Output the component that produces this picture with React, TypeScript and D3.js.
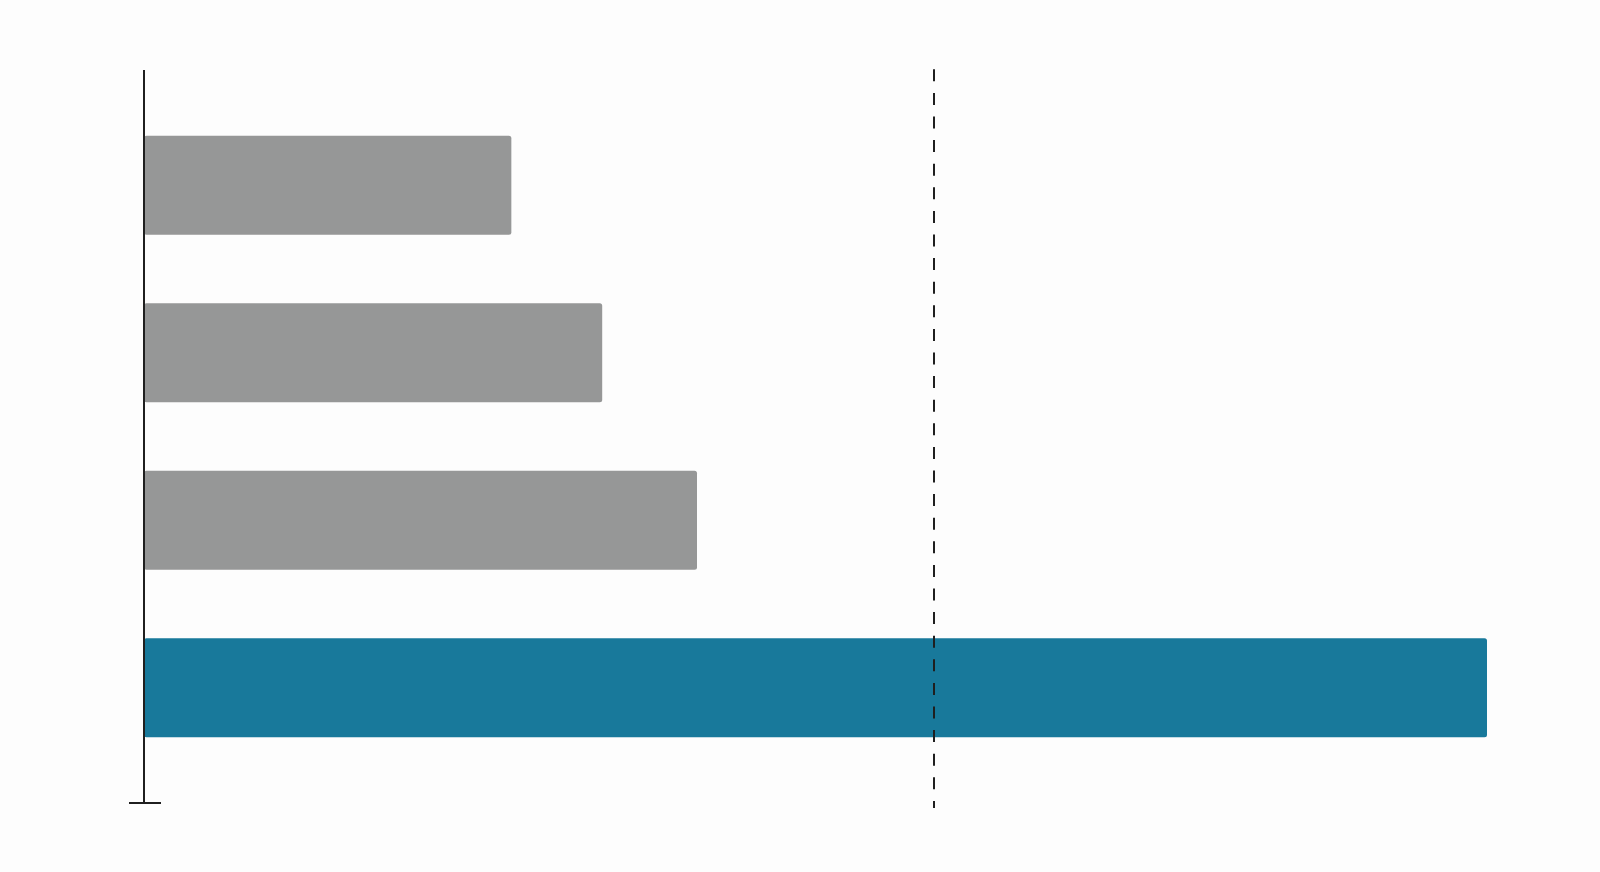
import { useEffect, useRef } from 'react'
import * as d3 from 'd3'

const CATEGORIES = ['A', 'B', 'C', 'D']
const VALUES = [46.5, 58, 70, 170]
const HIGHLIGHT = ['D']
const REFERENCE_VALUE = 100
const X_DOMAIN: [number, number] = [0, 180]

const WIDTH = 1600
const HEIGHT = 872

interface BarDatum {
  category: string
  value: number
}

export default function App() {
  const svgRef = useRef<SVGSVGElement | null>(null)

  useEffect(() => {
    if (!svgRef.current) {
      return
    }

    const svg = d3.select(svgRef.current)
    svg.selectAll('*').remove()

    const axisX = 144
    const top = 70
    const bottom = 803

    const data: BarDatum[] = CATEGORIES.map((category, index) => ({
      category,
      value: VALUES[index],
    }))

    const x = d3
      .scaleLinear()
      .domain(X_DOMAIN)
      .range([axisX, axisX + 180 * 7.9])

    const y = d3
      .scaleBand<string>()
      .domain(CATEGORIES)
      .range([top, bottom])
      .paddingInner(0.41)
      .paddingOuter(0.393)

    svg
      .append('rect')
      .attr('width', WIDTH)
      .attr('height', HEIGHT)
      .attr('fill', '#fdfdfd')

    svg
      .selectAll('rect.bar')
      .data(data)
      .enter()
      .append('rect')
      .attr('class', 'bar')
      .attr('x', x(0))
      .attr('y', (datum: BarDatum) => y(datum.category) ?? 0)
      .attr('width', (datum: BarDatum) => x(datum.value) - x(0))
      .attr('height', y.bandwidth())
      .attr('rx', 2.5)
      .attr('fill', (datum: BarDatum) =>
        HIGHLIGHT.includes(datum.category) ? '#18799b' : '#969797',
      )

    // reference line
    svg
      .append('line')
      .attr('x1', x(REFERENCE_VALUE))
      .attr('x2', x(REFERENCE_VALUE))
      .attr('y1', top - 0.7)
      .attr('y2', bottom + 5)
      .attr('stroke', '#1f1f1f')
      .attr('stroke-width', 2)
      .attr('stroke-dasharray', '12,11.6')

    // y axis with bottom tick
    svg
      .append('line')
      .attr('x1', axisX)
      .attr('x2', axisX)
      .attr('y1', top)
      .attr('y2', bottom)
      .attr('stroke', '#1f1f1f')
      .attr('stroke-width', 2)

    svg
      .append('line')
      .attr('x1', axisX - 15)
      .attr('x2', axisX + 17)
      .attr('y1', bottom)
      .attr('y2', bottom)
      .attr('stroke', '#1f1f1f')
      .attr('stroke-width', 2)
  }, [])

  return (
    <svg
      ref={svgRef}
      width={WIDTH}
      height={HEIGHT}
      style={{ position: 'absolute', top: 0, left: 0 }}
      role="img"
      aria-label="Horizontal bar chart with a dashed reference line"
    />
  )
}
